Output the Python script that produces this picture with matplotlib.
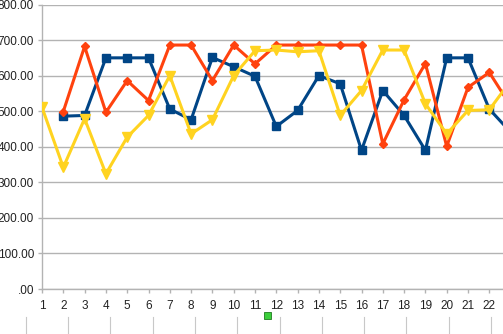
import numpy as np
import matplotlib
matplotlib.use("Agg")
import matplotlib.pyplot as plt
import matplotlib as mpl
from matplotlib.patches import Rectangle
from matplotlib.lines import Line2D

mpl.rc('font', family='Liberation Sans')

# data (categories 1..23, 23 is cut off on the right)
cats = np.arange(1, 24)
blue = [np.nan, 486, 488, 650, 650, 650, 506, 476, 651, 625, 598, 457, 502,
        600, 577, 390, 558, 488, 390, 650, 650, 506, 441]
orange = [np.nan, 499, 682, 497, 586, 530, 686, 686, 586, 686, 633, 686, 686,
          686, 686, 686, 408, 532, 634, 401, 567, 609, 515]
yellow = [511, 342, 479, 324, 427, 488, 600, 436, 476, 600, 670, 672, 667,
          670, 488, 558, 672, 672, 521, 436, 502, 504, 585]
yticks = [0, 100, 200, 300, 400, 500, 600, 700, 800]

W, H = 503, 334
fig = plt.figure(figsize=(W / 100, H / 100), dpi=100)
x0, ybot, ytop = 42, 289, 4.5
ax = fig.add_axes([x0 / W, (H - ybot) / H, (W - x0) / W, (ybot - ytop) / H])

step = 21.3  # px between categories
ax.set_xlim(1, 1 + (W - x0) / step)
ax.set_ylim(0, 800)

ax.plot(cats, blue, color='#004586', lw=2.2, marker='s', ms=6.3, zorder=3)
ax.plot(cats, orange, color='#ff420e', lw=2.2, marker='D', ms=4.5, zorder=4)
ax.plot(cats, yellow, color='#ffd320', lw=2.2, marker='v', ms=7.5, zorder=5)

# only the labels that fit inside the picture (1..22)
shown = cats[:22]
ax.set_yticks(yticks)
ax.set_yticklabels(['.00' if v == 0 else '%d.00' % v for v in yticks])
ax.set_xticks(shown)
ax.set_xticklabels([str(c) for c in shown])
ax.yaxis.grid(True, color='#b3b3b3', lw=1.0)
ax.set_axisbelow(True)

for s in ['top', 'right']:
    ax.spines[s].set_visible(False)
for s in ['left', 'bottom']:
    ax.spines[s].set_color('#b3b3b3')
    ax.spines[s].set_linewidth(1.0)
ax.tick_params(axis='both', colors='#b3b3b3', labelcolor='#222222',
               labelsize=8.5, length=2.8, width=1.0, direction='out')
ax.tick_params(axis='y', pad=3)
ax.tick_params(axis='x', pad=5)

# spreadsheet cell borders below the chart and the selection handle
for k in range(12):
    xp = 25.7 + 42.3 * k
    fig.add_artist(Line2D([xp / W, xp / W], [0, (H - 317) / H],
                          color='#c8c8c8', lw=0.8))
fig.add_artist(Rectangle(((267.7 - 3.5) / W, (H - 315.7 - 3.5) / H), 7 / W, 7 / H,
                         facecolor='#3ccf3c', edgecolor='#1f7a1f', lw=0.6))

fig.savefig('out.png', dpi=100)
